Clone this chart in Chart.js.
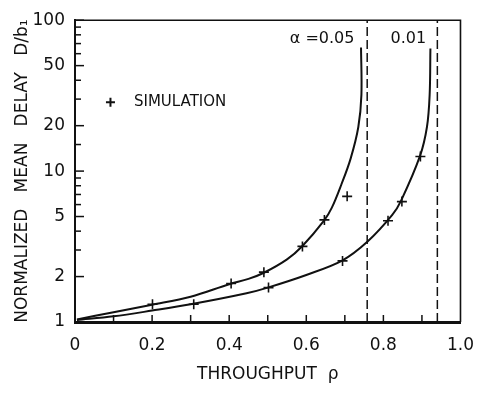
<!DOCTYPE html>
<html>
<head>
<meta charset="utf-8">
<script src="https://cdn.jsdelivr.net/npm/chart.js@4.4.1/dist/chart.umd.min.js"></script>
<style>
  html, body { margin: 0; padding: 0; background: #fff; }
  #wrap { width: 487px; height: 395px; }
</style>
</head>
<body>
<div id="wrap"><canvas id="chart" width="487" height="395"></canvas></div>
<script>
const INK = '#111';
const FONT = '"DejaVu Sans", sans-serif';

// alpha = 0.05 analytic curve
const curve05Rho   = [0.005, 0.1, 0.2, 0.3, 0.4, 0.45, 0.49, 0.55, 0.59, 0.646, 0.666, 0.691, 0.715, 0.735, 0.743, 0.742];
const curve05Delay = [1.04, 1.16, 1.30, 1.47, 1.78, 1.93, 2.12, 2.6, 3.19, 4.7, 5.7, 8.15, 12.1, 19.6, 32, 66];

// alpha = 0.01 analytic curve
const curve01Rho   = [0.005, 0.1, 0.2, 0.3, 0.445, 0.5, 0.6, 0.693, 0.759, 0.823, 0.846, 0.895, 0.913, 0.920, 0.922];
const curve01Delay = [1.03, 1.09, 1.19, 1.31, 1.55, 1.69, 2.05, 2.55, 3.41, 5.12, 6.37, 12.6, 19.6, 32, 65];

// simulation points
const sim05Rho   = [0.201, 0.405, 0.49, 0.59, 0.647, 0.706];
const sim05Delay = [1.31, 1.80, 2.14, 3.17, 4.75, 6.8];
const sim01Rho   = [0.308, 0.502, 0.694, 0.812, 0.848, 0.896];
const sim01Delay = [1.31, 1.69, 2.54, 4.69, 6.28, 12.5];

// saturation limits (dashed)
const limitRho = [0.758, 0.94];

const xTickLabels = ['0', '0.2', '0.4', '0.6', '0.8', '1.0'];
const yTickLabels = [1, 2, 5, 10, 20, 50, 100];
const curveLabels = ['α =0.05', '0.01'];
const legendLabel = 'SIMULATION';

function pairs(xs, ys) {
  return xs.map((v, i) => ({ x: v, y: ys[i] }));
}

function curveSet(xs, ys) {
  return {
    data: pairs(xs, ys),
    showLine: true,
    borderColor: INK,
    borderWidth: 2,
    pointRadius: 0,
    tension: 0.35,
    fill: false,
  };
}

function simSet(xs, ys) {
  return {
    data: pairs(xs, ys),
    showLine: false,
    pointStyle: 'cross',
    pointRadius: 5,
    borderColor: INK,
    borderWidth: 1.6,
  };
}

function limitSet(rho) {
  return {
    data: [{ x: rho, y: 1 }, { x: rho, y: 100 }],
    showLine: true,
    borderColor: INK,
    borderWidth: 1.5,
    borderDash: [9, 4],
    pointRadius: 0,
  };
}

// inner tick marks, frame, curve labels and legend
const paperPlugin = {
  id: 'paper',
  afterDraw(chart) {
    const { ctx, chartArea: a, scales: { x, y } } = chart;
    ctx.save();
    ctx.strokeStyle = INK;
    ctx.lineWidth = 1.6;
    ctx.beginPath();
    ctx.moveTo(a.left, a.top);
    ctx.lineTo(a.right, a.top);
    ctx.lineTo(a.right, a.bottom);
    ctx.stroke();

    ctx.lineWidth = 1.5;
    x.ticks.forEach(t => {
      if (t.value <= 0 || t.value >= 1) return;
      const px = x.getPixelForValue(t.value);
      ctx.beginPath();
      ctx.moveTo(px, a.bottom);
      ctx.lineTo(px, a.bottom - 7);
      ctx.stroke();
    });
    y.ticks.forEach(t => {
      const py = y.getPixelForValue(t.value);
      const len = yTickLabels.includes(t.value) ? 9 : 6;
      ctx.beginPath();
      ctx.moveTo(a.left, py);
      ctx.lineTo(a.left + len, py);
      ctx.stroke();
    });

    ctx.fillStyle = INK;
    ctx.font = '16px ' + FONT;
    ctx.textBaseline = 'middle';
    ctx.textAlign = 'right';
    ctx.fillText(curveLabels[0], x.getPixelForValue(0.725), y.getPixelForValue(75));
    ctx.fillText(curveLabels[1], x.getPixelForValue(0.911), y.getPixelForValue(75));

    // legend
    const lx = x.getPixelForValue(0.092);
    const ly = y.getPixelForValue(28.6);
    ctx.lineWidth = 2;
    ctx.beginPath();
    ctx.moveTo(lx - 4.5, ly); ctx.lineTo(lx + 4.5, ly);
    ctx.moveTo(lx, ly - 4.5); ctx.lineTo(lx, ly + 4.5);
    ctx.stroke();
    ctx.font = '15px ' + FONT;
    ctx.textAlign = 'left';
    ctx.fillText(legendLabel, x.getPixelForValue(0.153), ly);
    ctx.restore();
  },
};

new Chart(document.getElementById('chart'), {
  type: 'scatter',
  data: {
    datasets: [
      curveSet(curve05Rho, curve05Delay),
      curveSet(curve01Rho, curve01Delay),
      simSet(sim05Rho, sim05Delay),
      simSet(sim01Rho, sim01Delay),
      limitSet(limitRho[0]),
      limitSet(limitRho[1]),
    ],
  },
  options: {
    responsive: false,
    animation: false,
    layout: { padding: { left: 0, right: 19, top: 9, bottom: 0 } },
    plugins: { legend: { display: false }, tooltip: { enabled: false } },
    scales: {
      x: {
        type: 'linear',
        min: 0,
        max: 1,
        afterFit: s => { s.height = 73; },
        grid: { display: false, drawTicks: false },
        border: { display: true, color: INK, width: 3 },
        ticks: {
          stepSize: 0.1,
          autoSkip: false,
          maxRotation: 0,
          padding: 13,
          color: INK,
          font: { family: FONT, size: 17 },
          callback: v => {
            const k = Math.round(v * 10);
            return k % 2 === 0 ? xTickLabels[k / 2] : '';
          },
        },
        title: {
          display: true,
          text: 'THROUGHPUT\u00a0\u00a0ρ',
          color: INK,
          font: { family: FONT, size: 17 },
          padding: { top: 0, bottom: 10 },
        },
      },
      y: {
        type: 'logarithmic',
        min: 1,
        max: 100,
        afterFit: s => { s.width = 75; },
        grid: { display: false, drawTicks: false },
        border: { display: true, color: INK, width: 2 },
        ticks: {
          autoSkip: false,
          padding: 10,
          color: INK,
          font: { family: FONT, size: 17 },
          callback: v => (yTickLabels.includes(v) ? String(v) : ''),
        },
        title: {
          display: true,
          text: 'NORMALIZED\u00a0\u00a0\u00a0MEAN\u00a0\u00a0\u00a0DELAY\u00a0\u00a0\u00a0D/b₁',
          color: INK,
          font: { family: FONT, size: 17 },
          padding: { top: 12, bottom: 0 },
        },
      },
    },
  },
  plugins: [paperPlugin],
});
</script>
</body>
</html>
